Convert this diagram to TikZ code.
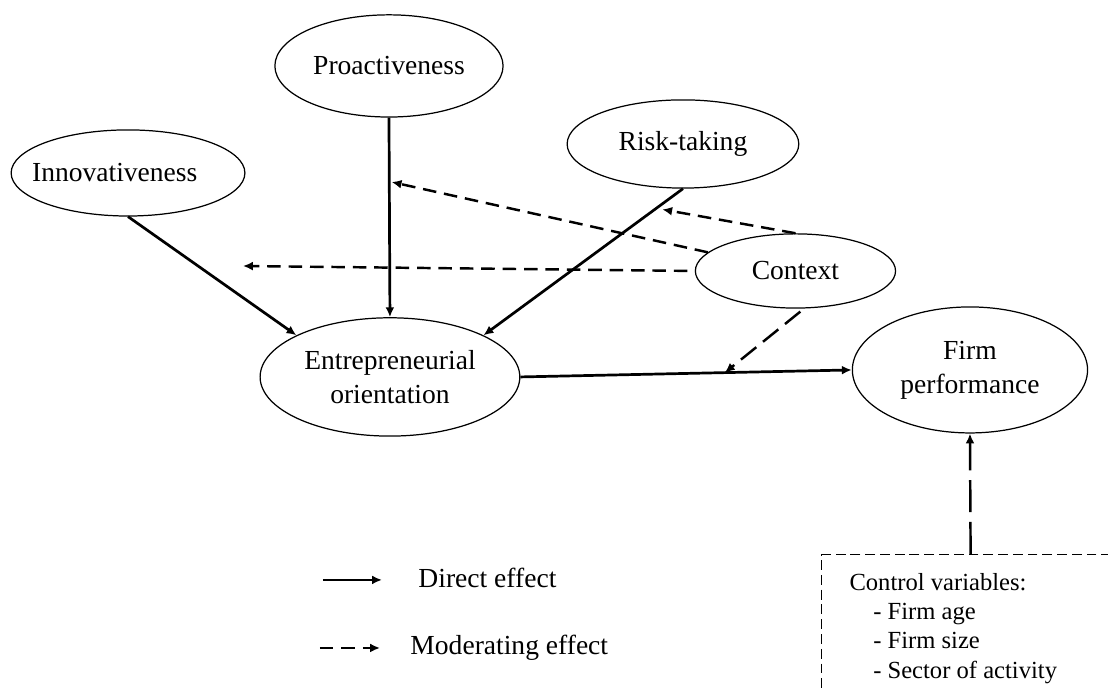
\documentclass[tikz,border=0pt]{standalone}
\usepackage{fontspec}
\setmainfont{Liberation Serif}
\usepackage{tikz}
\usetikzlibrary{arrows.meta, positioning, calc, shapes.geometric}

\tikzset{
  construct/.style={ellipse, draw, line width=0.5pt, inner sep=0pt, align=center},
  direct/.style={line width=1.1pt, -{Latex[length=4pt, width=3.6pt]}},
  moderate/.style={line width=1pt, dash pattern=on 5.5pt off 3.2pt,
    -{Latex[length=4pt, width=3.6pt]}},
  longdash/.style={dash pattern=on 8pt off 3.5pt},
  ctrlbox/.style={draw, line width=0.5pt, dash pattern=on 4pt off 2pt, inner sep=0pt},
  ctrltext/.style={font=\fontsize{10}{11.9}\selectfont, align=left, inner sep=0pt},
}

\begin{document}
\begin{tikzpicture}[x=1cm, y=1cm, font=\fontsize{11.2}{13.8}\selectfont]

  \useasboundingbox (0,0) rectangle (15.829,9.871);

  %% EO dimensions
  \node[construct, minimum width=3.26cm, minimum height=1.46cm] (pro) at (5.557,8.929)
    {Proactiveness};
  \node[construct, minimum width=3.34cm, minimum height=1.23cm,
    label={[xshift=-0.19cm]center:Innovativeness}] (inno) at (1.829,7.4) {};
  \node[construct, minimum width=3.31cm, minimum height=1.26cm] (risk) at (9.757,7.814)
    {Risk-taking};

  %% Moderator
  \node[construct, minimum width=2.86cm, minimum height=1.06cm] (ctx) at (11.364,6.0)
    {Context};

  %% EO and outcome
  \node[construct, minimum width=3.71cm, minimum height=1.69cm] (eo) at (5.571,4.486)
    {Entrepreneurial\\orientation};
  \node[construct, minimum width=3.36cm, minimum height=1.8cm] (fp) at (13.857,4.586)
    {Firm\\performance};

  %% Direct effects
  \draw[direct] (inno.south) -- (eo.156);
  \draw[direct] (pro.south) -- (eo.north);
  \draw[direct] (risk.south) -- (eo.24);
  \draw[direct] (eo.east) -- (fp.west);

  %% Moderating effects
  \coordinate (modP) at ($(pro.south)!0.32!(eo.north)$);
  \coordinate (modR) at ($(risk.south)!0.134!(eo.24)$);
  \coordinate (modI) at (3.471,6.071);
  \coordinate (modE) at ($(eo.east)!0.617!(fp.west)$);
  \draw[moderate, shorten >=1pt] (ctx.168) -- (modP);
  \draw[moderate, shorten >=2.5pt] (ctx.north) -- (modR);
  \draw[moderate, shorten <=3pt] (ctx.west) -- (modI);
  \draw[moderate, longdash, shorten <=2pt] (ctx.-77) -- (modE);

  %% Controls
  \node[ctrlbox, minimum width=4.257cm, minimum height=2.371cm, anchor=north west]
    (ctrl) at (11.729,1.957) {};
  \node[ctrltext, anchor=north west] (ctrlvars) at (12.129,1.69)
    {Control variables:\\
     \hspace*{0.34cm}- Firm age\\
     \hspace*{0.34cm}- Firm size\\
     \hspace*{0.34cm}- Sector of activity};
  \draw[moderate, dash pattern=on 13pt off 4pt] (ctrl.north) -- (fp.south);

  %% Legend
  \node[inner sep=0pt, anchor=west] (ldirect) at (5.971,1.614) {Direct effect};
  \node[inner sep=0pt, anchor=west] (lmoder) at (5.857,0.614) {Moderating effect};
  \coordinate (ldirA) at (4.614,1.586);
  \coordinate (ldirB) at (5.457,1.586);
  \coordinate (lmodA) at (4.571,0.614);
  \coordinate (lmodB) at (5.429,0.614);
  \draw[direct] (ldirA) -- (ldirB);
  \draw[moderate] (lmodA) -- (lmodB);

\end{tikzpicture}
\end{document}
